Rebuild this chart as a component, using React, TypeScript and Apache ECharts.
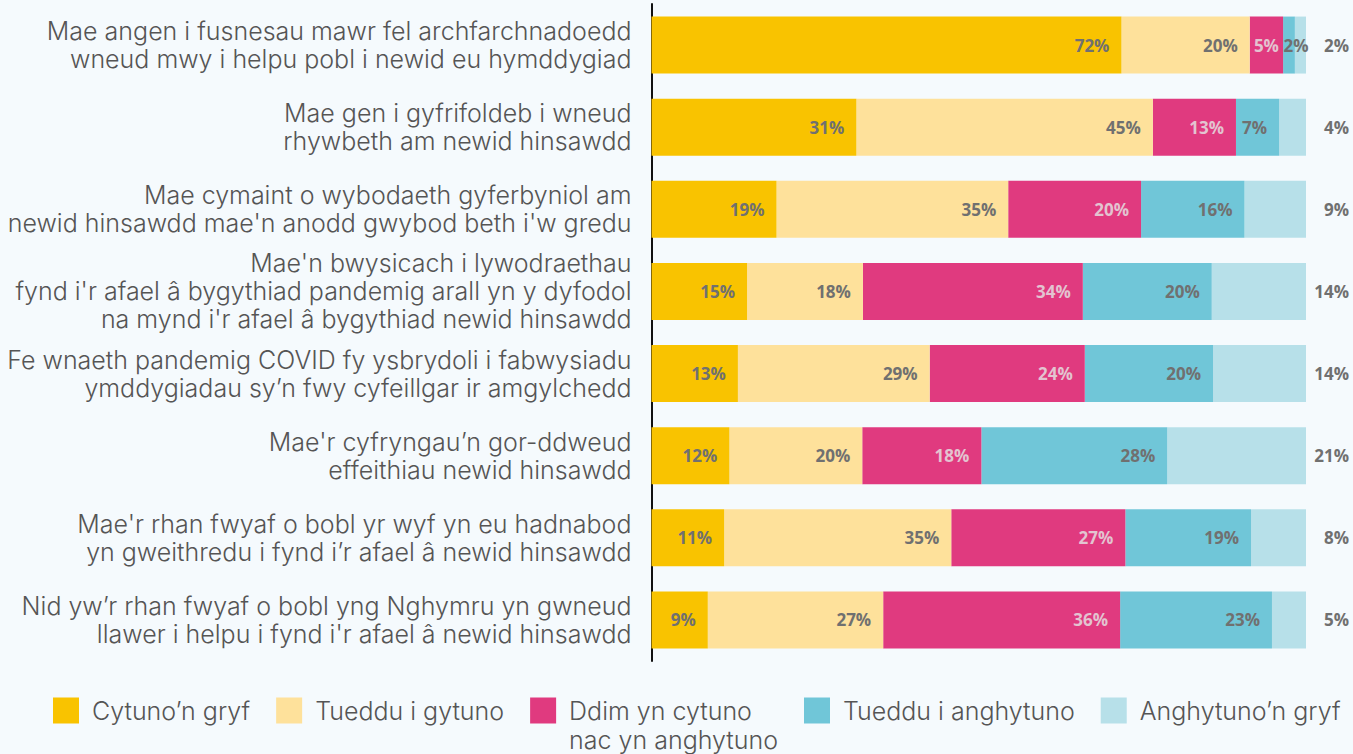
import React, { useEffect, useRef } from "react";
import * as echarts from "echarts";

const categories = [
  "Mae angen i fusnesau mawr fel archfarchnadoedd\nwneud mwy i helpu pobl i newid eu hymddygiad",
  "Mae gen i gyfrifoldeb i wneud\nrhywbeth am newid hinsawdd",
  "Mae cymaint o wybodaeth gyferbyniol am\nnewid hinsawdd mae'n anodd gwybod beth i'w gredu",
  "Mae'n bwysicach i lywodraethau\nfynd i'r afael â bygythiad pandemig arall yn y dyfodol\nna mynd i'r afael â bygythiad newid hinsawdd",
  "Fe wnaeth pandemig COVID fy ysbrydoli i fabwysiadu\nymddygiadau sy’n fwy cyfeillgar ir amgylchedd",
  "Mae'r cyfryngau’n gor-ddweud\neffeithiau newid hinsawdd",
  "Mae'r rhan fwyaf o bobl yr wyf yn eu hadnabod\nyn gweithredu i fynd i’r afael â newid hinsawdd",
  "Nid yw’r rhan fwyaf o bobl yng Nghymru yn gwneud\nllawer i helpu i fynd i'r afael â newid hinsawdd",
];

const seriesNames = [
  "Cytuno’n gryf",
  "Tueddu i gytuno",
  "Ddim yn cytuno\nnac yn anghytuno",
  "Tueddu i anghytuno",
  "Anghytuno’n gryf",
];

const strongAgree = [71.8, 31.3, 19.1, 14.6, 13.2, 11.9, 11.1, 8.6];
const tendAgree = [19.6, 45.3, 35.4, 17.7, 29.3, 20.3, 34.7, 26.8];
const neither = [5.1, 12.7, 20.3, 33.6, 23.7, 18.2, 26.6, 36.2];
const tendDisagree = [1.8, 6.6, 15.8, 19.7, 19.6, 28.4, 19.2, 23.2];
const strongDisagree = [1.7, 4.1, 9.4, 14.4, 14.2, 21.2, 8.4, 5.2];

const seriesValues = [strongAgree, tendAgree, neither, tendDisagree, strongDisagree];
const colors = ["#f9c300", "#fee19b", "#e03a7f", "#70c6d8", "#b7e0e9"];
const labelColors = ["#707070", "#707070", "#e3c3d0", "#707070", "#707070"];

const FONT = "Inter, 'Open Sans', sans-serif";
const VALUE_FONT = "'Open Sans', sans-serif";

export default function App() {
  const ref = useRef<HTMLDivElement>(null);

  useEffect(() => {
    if (!ref.current) return;
    const chart = echarts.init(ref.current, null, { renderer: "svg" });
    const last = seriesValues.length - 1;
    const series = seriesValues.map((vals, si) => ({
      name: seriesNames[si],
      type: "bar",
      stack: "total",
      barWidth: 57,
      z: 2 + (last - si),
      itemStyle: { color: colors[si] },
      label:
        si === last
          ? {
              show: true,
              position: "right",
              align: "right",
              distance: 43,
              color: "#707070",
              fontFamily: VALUE_FONT,
              fontWeight: "bold",
              fontSize: 17,
              formatter: (p: any) => Math.round(p.value) + "%",
            }
          : {
              show: true,
              position: "insideRight",
              distance: 12,
              color: labelColors[si],
              fontFamily: VALUE_FONT,
              fontWeight: "bold",
              fontSize: 17,
              formatter: (p: any) => Math.round(p.value) + "%",
            },
      data: vals.map((v) =>
        si !== last && v < 6
          ? { value: v, label: { position: "inside", offset: [v < 3 ? 7 : 0, 0] } }
          : v
      ),
    }));

    chart.setOption({
      animation: false,
      backgroundColor: "#f5fafd",
      textStyle: { fontFamily: FONT },
      grid: { left: 651.5, right: 47, top: 4, height: 657, containLabel: false },
      xAxis: { type: "value", min: 0, max: 100, show: false },
      yAxis: {
        type: "category",
        inverse: true,
        data: categories,
        axisLine: { show: true, lineStyle: { color: "#111", width: 2 } },
        axisTick: { show: false },
        axisLabel: {
          margin: 20,
          fontSize: 25,
          lineHeight: 28,
          fontWeight: 300,
          color: "#555",
          fontFamily: FONT,
        },
      },
      legend: {
        data: seriesNames,
        top: 667,
        left: 53,
        padding: 0,
        icon: "rect",
        itemWidth: 26,
        itemHeight: 26,
        itemGap: 26,
        formatter: (name: string) => (name.indexOf("\n") >= 0 ? "\n" + name : name),
        textStyle: {
          fontSize: 25,
          lineHeight: 29,
          fontWeight: 300,
          color: "#555",
          fontFamily: FONT,
          padding: [0, 0, 0, 8],
        },
      },
      series,
    });
    return () => chart.dispose();
  }, []);

  return (
    <div
      ref={ref}
      style={{ position: "fixed", left: 0, top: 0, width: 1353, height: 754 }}
    />
  );
}
